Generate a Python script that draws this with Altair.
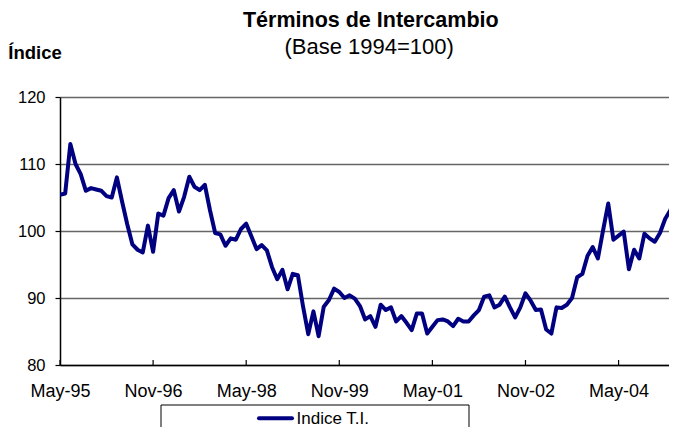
import altair as alt
import pandas as pd

# ---- data ----
values = [
    105.4, 105.6, 113.0, 110.0, 108.5, 106.0, 106.4, 106.2, 106.0, 105.2,
    105.0, 108.0, 104.4, 101.0, 98.0, 97.2, 96.8, 100.8, 96.9, 102.6,
    102.3, 104.9, 106.1, 102.9, 105.1, 108.1, 106.6, 106.1, 106.9, 103.1,
    99.7, 99.5, 97.8, 98.9, 98.7, 100.3, 101.1, 99.2, 97.3, 97.9,
    97.1, 94.6, 92.8, 94.2, 91.3, 93.6, 93.4, 88.7, 84.6, 88.0,
    84.3, 88.7, 89.7, 91.4, 90.9, 90.0, 90.4, 89.9, 88.8, 86.8,
    87.3, 85.7, 89.0, 88.2, 88.6, 86.5, 87.3, 86.3, 85.2, 87.7,
    87.7, 84.7, 85.7, 86.7, 86.8, 86.5, 85.8, 86.9, 86.5, 86.5,
    87.4, 88.2, 90.2, 90.4, 88.6, 89.0, 90.2, 88.6, 87.1, 88.6,
    90.7, 89.6, 88.2, 88.3, 85.3, 84.7, 88.6, 88.5, 89.0, 90.0,
    93.1, 93.6, 96.3, 97.6, 95.9, 100.1, 104.1, 98.7, 99.3, 99.9,
    94.3, 97.2, 95.9, 99.6, 98.9, 98.4, 99.7, 101.8, 103.1, 105.2,
]
months = list(range(len(values)))          # 0 = May-95, monthly
tick_months = [0, 18, 36, 54, 72, 90, 108]
tick_labels = ["May-95", "Nov-96", "May-98", "Nov-99", "May-01", "Nov-02", "May-04"]
y_ticks = [80, 90, 100, 110, 120]
title_text = ["Términos de Intercambio"]
subtitle_text = ["(Base 1994=100)"]
ytitle_text = ["Índice"]
series_name = ["Indice T.I."]

FONT = "Arial, Liberation Sans, sans-serif"
NAVY = "#000080"

df = pd.DataFrame({"m": months, "v": values})
ticks_df = pd.DataFrame({"m": tick_months})

label_expr = "[" + ",".join("'%s'" % l for l in tick_labels) + "][round(datum.value/18)]"

xscale = alt.Scale(domain=[0, 117.75], nice=False, zero=False)
yscale = alt.Scale(domain=[80, 120], nice=False, zero=False)

line = alt.Chart(df).mark_line(color=NAVY, strokeWidth=4, strokeJoin="round", clip=True).encode(
    x=alt.X("m:Q", scale=xscale, title=None,
            axis=alt.Axis(values=tick_months, labelExpr=label_expr, ticks=False, tickSize=0,
                          labelPadding=17, labelFontSize=18, labelFont=FONT, labelColor="black",
                          labelFlush=False, labelOverlap=False, grid=False,
                          domainColor="black", domainWidth=1.5)),
    y=alt.Y("v:Q", scale=yscale, title=None,
            axis=alt.Axis(values=y_ticks, tickSize=5, tickColor="black", tickWidth=1.2,
                          labelPadding=10, labelFontSize=16.5, labelFont=FONT, labelColor="black",
                          domainColor="black", domainWidth=1.5,
                          grid=True, gridColor="#666666", gridWidth=1.3)),
)

xticks = alt.Chart(ticks_df).mark_rule(color="black", strokeWidth=1.2).encode(
    x=alt.X("m:Q", scale=xscale),
    y=alt.value(268),
    y2=alt.value(263),
)

title = alt.Chart(pd.DataFrame({"t": title_text})).mark_text(
    font=FONT, fontSize=21.5, fontWeight="bold", align="center", baseline="alphabetic", color="black"
).encode(text="t:N", x=alt.value(310.8), y=alt.value(-70.3))

subtitle = alt.Chart(pd.DataFrame({"t": subtitle_text})).mark_text(
    font=FONT, fontSize=22, align="center", baseline="alphabetic", color="black"
).encode(text="t:N", x=alt.value(309.2), y=alt.value(-43))

ytitle = alt.Chart(pd.DataFrame({"t": ytitle_text})).mark_text(
    font=FONT, fontSize=18.5, fontWeight="bold", align="left", baseline="alphabetic", color="black"
).encode(text="t:N", x=alt.value(-51.7), y=alt.value(-37.7))

leg_box = alt.Chart(pd.DataFrame({"t": series_name})).mark_rect(
    fill="white", stroke="black", strokeWidth=1
).encode(x=alt.value(101), x2=alt.value(409), y=alt.value(308), y2=alt.value(340))

leg_sym = alt.Chart(pd.DataFrame({"t": series_name})).mark_rule(
    color=NAVY, strokeWidth=4, strokeCap="round"
).encode(x=alt.value(199), x2=alt.value(232), y=alt.value(321.3))

leg_txt = alt.Chart(pd.DataFrame({"t": series_name})).mark_text(
    font=FONT, fontSize=17, align="left", baseline="alphabetic", color="black"
).encode(text="t:N", x=alt.value(236.5), y=alt.value(326.5))

chart = alt.layer(line, xticks, title, subtitle, ytitle, leg_box, leg_sym, leg_txt).properties(
    width=609, height=268,
    padding={"left": 52, "top": 89, "right": 0, "bottom": 62},
    autosize=alt.AutoSizeParams(type="none"),
    background="white",
).configure_view(stroke=None)

chart.save("out.html", embed_options={"renderer": "svg", "actions": False})
